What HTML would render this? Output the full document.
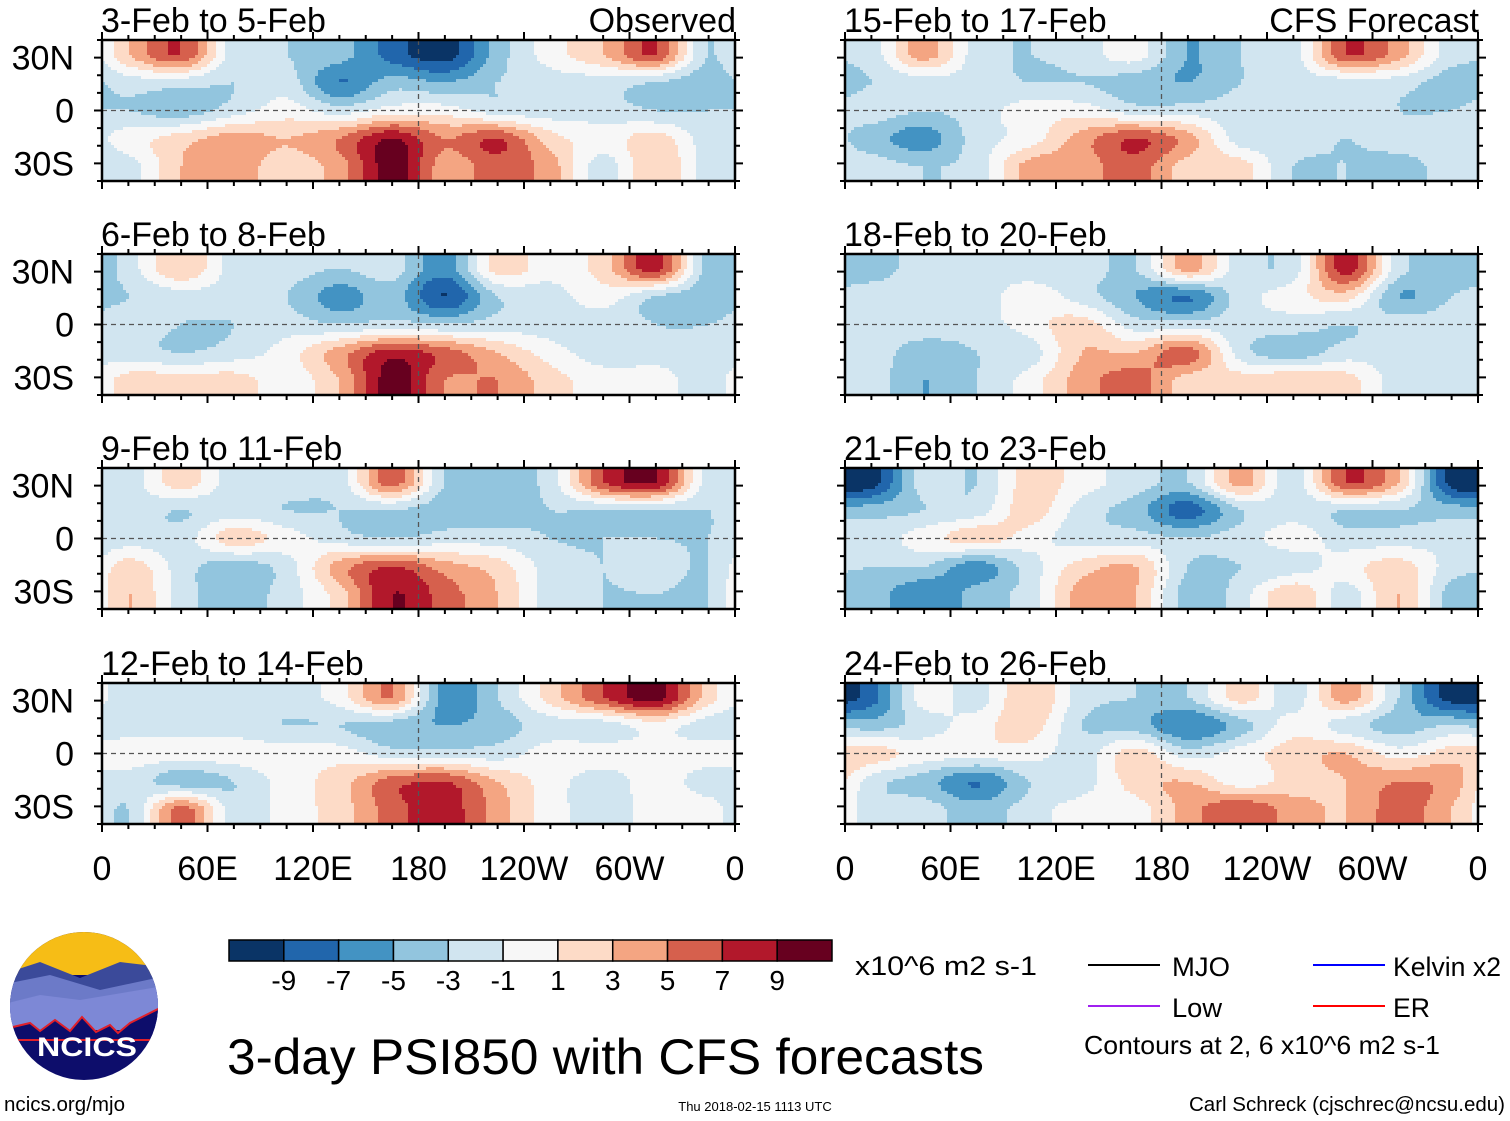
<!DOCTYPE html>
<html><head><meta charset="utf-8"><style>
html,body{margin:0;padding:0;background:#fff}
svg{display:block;font-family:"Liberation Sans",Arial,sans-serif}
</style></head><body>
<svg id="root" width="1510" height="1121" viewBox="0 0 1510 1121">
<defs>
<clipPath id="pclip"><rect x="0" y="0" width="633" height="141"/></clipPath>
</defs>
<g id="panels"></g>
<g id="xaxes"></g>
<g id="cbar"></g>
<text x="855" y="975" font-size="27" textLength="182" lengthAdjust="spacingAndGlyphs">x10^6 m2 s-1</text>
<g>
<g><line x1="1088" y1="965" x2="1160" y2="965" stroke="#000" stroke-width="2"/><text x="1172" y="976" font-size="27" textLength="58" lengthAdjust="spacingAndGlyphs">MJO</text></g>
<g><line x1="1313" y1="965" x2="1385" y2="965" stroke="#0000ff" stroke-width="2"/><text x="1393" y="976" font-size="27" textLength="108" lengthAdjust="spacingAndGlyphs">Kelvin x2</text></g>
<g><line x1="1088" y1="1006" x2="1160" y2="1006" stroke="#a020f0" stroke-width="2"/><text x="1172" y="1017" font-size="27" textLength="50" lengthAdjust="spacingAndGlyphs">Low</text></g>
<g><line x1="1313" y1="1006" x2="1385" y2="1006" stroke="#ff0000" stroke-width="2"/><text x="1393" y="1017" font-size="27" textLength="37" lengthAdjust="spacingAndGlyphs">ER</text></g>
<text x="1084" y="1054" font-size="26" textLength="356" lengthAdjust="spacingAndGlyphs">Contours at 2, 6 x10^6 m2 s-1</text>
</g>
<text x="227" y="1074" font-size="50" textLength="757" lengthAdjust="spacingAndGlyphs">3-day PSI850 with CFS forecasts</text>
<text x="4" y="1111" font-size="20" textLength="121" lengthAdjust="spacingAndGlyphs">ncics.org/mjo</text>
<text x="755" y="1111" font-size="13" text-anchor="middle">Thu 2018-02-15 1113 UTC</text>
<text x="1505" y="1111" font-size="20" text-anchor="end" textLength="316" lengthAdjust="spacingAndGlyphs">Carl Schreck (cjschrec@ncsu.edu)</text>
<g>
<clipPath id="lclip"><circle cx="84" cy="1006" r="74"/></clipPath>
<g clip-path="url(#lclip)">
<rect x="0" y="930" width="170" height="160" fill="#0d0d6b"/>
<rect x="0" y="930" width="170" height="45" fill="#f6bd16"/>
<path d="M0 975 L40 962 L80 978 L120 962 L170 968 L170 1000 L0 1000Z" fill="#3b4a9a"/>
<path d="M0 985 L50 975 L100 990 L170 975 L170 1020 L0 1020Z" fill="#6c7ac8"/>
<path d="M0 1005 L40 995 L80 1000 L170 985 L170 1030 L0 1030Z" fill="#7d88d6"/>
<path d="M0 1030 L30 1023 L40 1031 L55 1020 L70 1031 L82 1017 L96 1032 L110 1025 L118 1033 L130 1023 L170 1003 L170 1040 L0 1040Z" fill="#0d0d6b" stroke="#e0202a" stroke-width="2"/>
</g>
<text x="87" y="1056" font-size="27" font-weight="bold" fill="#fff" text-anchor="middle" textLength="100" lengthAdjust="spacingAndGlyphs">NCICS</text>
</g>
</svg>
<script>
const NS="http://www.w3.org/2000/svg";
const panelTitles=["3-Feb to 5-Feb","6-Feb to 8-Feb","9-Feb to 11-Feb","12-Feb to 14-Feb","15-Feb to 17-Feb","18-Feb to 20-Feb","21-Feb to 23-Feb","24-Feb to 26-Feb"];
const lonTicks=["0","60E","120E","180","120W","60W","0"];
const latTicks=["30N","0","30S"];
const latTickValues=[30,0,-30];
const cbarLabels=["-9","-7","-5","-3","-1","1","3","5","7","9"];
const cbarColors=["#0a3466","#2166ac","#4393c3","#92c5de","#d1e5f0","#f7f7f7","#fddbc7","#f4a582","#d6604d","#b2182b","#67001f"];
// grid: 12 lon columns (30deg each, centred 15E..345E), 5 lat rows (32N,16N,0,16S,32S)
const gridLats=[32,16,0,-16,-32];
const p1=[[3,7,-2,-3,-4,-8,-10,-4,0,3,7,-3],[-2,-2,-3,-2,-7,-4,-5,-3,-2,-2,-3,-4],[-3,-4,-2,0,-2,0,0,-2,-2,-2,-3,-3],[0,2,4,3,5,9,5,7,2,0,2,-2],[-2,3,4,2,4,10,4,6,4,-2,3,-2]];
const p2=[[-2,3,-2,-2,-3,-2,-6,2,0,2,8,-4],[-3,-2,-2,-3,-6,-4,-9,-3,-2,0,-3,-4],[-2,-3,-3,-2,-3,-2,-3,-2,-2,-2,-3,-3],[-2,-3,-2,0,4,8,6,3,0,-2,-2,-2],[2,2,2,0,3,10,5,5,2,0,0,-2]];
const p3=[[-2,2,-2,-2,-2,6,-3,-4,-2,7,9,-2],[-2,-3,-2,-3,-3,-3,-4,-4,-3,-3,-3,-3],[-2,-2,2,0,-2,-3,-2,-2,-3,-3,-3,-3],[2,-2,-4,-2,4,7,4,2,-2,-3,-2,-3],[3,-2,-4,-2,2,9,6,3,-2,-3,-3,-3]];
const p4=[[-2,-2,-2,-2,0,5,-6,-3,2,7,10,2],[-2,-2,-2,-3,-3,-4,-5,-4,-2,-2,0,-2],[0,0,0,0,0,-2,-2,-2,0,0,0,0],[-2,-4,-3,0,2,6,7,3,0,-2,0,-2],[-3,6,-2,0,2,6,8,4,0,-2,0,0]];
const p5=[[-2,4,-2,-3,-2,0,-5,-3,-2,7,4,-2],[-3,-2,-2,-3,-3,-4,-5,-3,-2,-2,-2,-4],[-2,-3,-2,0,0,-2,-2,-2,-2,-2,-3,-3],[-4,-6,-2,0,4,7,4,-2,-2,-3,-2,-2],[-2,-3,-2,4,4,6,2,2,-3,-3,-4,-2]];
const p6=[[-4,-2,-2,-2,-2,-3,4,-2,-2,8,-2,-4],[-2,-2,-2,0,-2,-5,-7,-2,0,2,-5,-3],[-2,-2,-2,0,2,-2,-2,-2,-2,-3,-2,-2],[-2,-4,-3,-2,3,3,6,-2,-4,-2,-2,-2],[-2,-5,-3,0,4,6,2,2,3,2,-2,-2]];
const p7=[[-10,-2,-3,2,0,-2,-3,4,-2,7,3,-10],[-4,-3,-2,2,-2,-4,-8,-3,-2,-3,-3,-4],[-2,0,2,0,-2,-2,-3,-2,0,-2,-2,-2],[-3,-3,-6,-2,2,3,-3,-3,-2,0,2,-2],[-4,-7,-4,-2,4,3,-4,-2,3,-2,3,-4]];
const p8=[[-8,0,-2,3,-2,-3,-3,2,-2,4,-3,-10],[-4,-2,0,2,-3,-4,-7,-4,0,-2,-4,-3],[2,0,0,0,-2,2,-2,0,2,3,0,2],[-2,-4,-7,-3,-2,2,3,0,2,3,5,4],[-2,-2,-4,-2,0,0,4,7,4,3,6,3]];
const panelData=[p1,p2,p3,p4,p5,p6,p7,p8];

const W=633,H=141;
const colX=[102,845], rowY=[40,254,468,683];
const xScale=lon=>lon/360*W;
const yScale=lat=>(40-lat)/80*H;
function colorFor(v){const edges=[-9,-7,-5,-3,-1,1,3,5,7,9];let i=0;while(i<edges.length&&v>=edges[i])i++;return cbarColors[i];}
function cr(p0,p1,p2,p3,t){return 0.5*((2*p1)+(-p0+p2)*t+(2*p0-5*p1+4*p2-p3)*t*t+(-p0+3*p1-3*p2+p3)*t*t*t);}
function rowAt(d,j,lon){
  const fx=lon/30-0.5;const i=Math.floor(fx);const t=fx-i;
  const g=k=>d[j][((k%12)+12)%12];
  return cr(g(i-1),g(i),g(i+1),g(i+2),t);
}
function sample(d,lon,lat){
  let fy=(32-lat)/16; if(fy<0)fy=0; if(fy>4)fy=4;
  let j=Math.min(3,Math.floor(fy));const t=fy-j;
  const r=k=>rowAt(d,Math.max(0,Math.min(4,k)),lon);
  return cr(r(j-1),r(j),r(j+1),r(j+2),t);
}
const panelsG=document.getElementById('panels');
function mk(tag,attrs,parent){const e=document.createElementNS(NS,tag);for(const k in attrs)e.setAttribute(k,attrs[k]);parent.appendChild(e);return e;}
panelData.forEach((d,p)=>{
  const col=p<4?0:1,row=p%4;const X=colX[col],Y=rowY[row];
  const g=mk('g',{transform:`translate(${X},${Y})`},panelsG);
  
  
  const fill=mk('g',{'clip-path':'url(#pclip)','shape-rendering':'crispEdges'},g);
  
  
  const step=3;
  for(let y=0;y<H;y+=step){
    const lat=40-(y+step/2)/H*80;
    let runStart=0,runColor=null;
    for(let x=0;x<=W+step;x+=step){
      let c=null;
      if(x<W){const lon=(x+step/2)/W*360;c=colorFor(sample(d,lon,lat));}
      if(c!==runColor){
        if(runColor!==null){const r=mk('rect',{x:runStart,y:y,width:Math.min(x,W)-runStart,height:step,fill:runColor},fill);
          
          }
        runStart=x;runColor=c;
      }
    }
  }
  mk('line',{x1:0,y1:yScale(0),x2:W,y2:yScale(0),stroke:'#555','stroke-width':1.3,'stroke-dasharray':'5,4'},g);
  mk('line',{x1:xScale(180),y1:0,x2:xScale(180),y2:H,stroke:'#555','stroke-width':1.3,'stroke-dasharray':'5,4'},g);
  mk('rect',{x:0,y:0,width:W,height:H,fill:'none',stroke:'#000','stroke-width':2.5},g);
  for(let lon=0;lon<=360;lon+=15){const x=xScale(lon);const L=lon%60===0?8:5;
    mk('line',{x1:x,y1:H,x2:x,y2:H+L,stroke:'#000','stroke-width':2},g);
    mk('line',{x1:x,y1:0,x2:x,y2:-L,stroke:'#000','stroke-width':2},g);}
  for(let lat=-40;lat<=40;lat+=10){const y=yScale(lat);const L=lat%30===0?8:5;
    mk('line',{x1:0,y1:y,x2:-L,y2:y,stroke:'#000','stroke-width':2},g);
    mk('line',{x1:W,y1:y,x2:W+L,y2:y,stroke:'#000','stroke-width':2},g);}
  const t=mk('text',{x:-1,y:-8,'font-size':34},g);t.textContent=panelTitles[p];
  
  
  if(p===0||p===4){const s=mk('text',{x:W+1,y:-8,'font-size':34,'text-anchor':'end'},g);s.textContent=p===0?'Observed':'CFS Forecast';
    
    }
  if(col===0){latTicks.forEach((lb,i)=>{const tt=mk('text',{x:-28,y:yScale(latTickValues[i])+12,'font-size':34,'text-anchor':'end'},g);tt.textContent=lb;
    
    });}
});
const xa=document.getElementById('xaxes');
colX.forEach(X=>{lonTicks.forEach((lb,i)=>{const t=mk('text',{x:X+xScale(i*60),y:880,'font-size':34,'text-anchor':'middle'},xa);t.textContent=lb;
  
  });});
const cb=document.getElementById('cbar');
const cbX=229,cbW=603/11;
cbarColors.forEach((c,i)=>{const r=mk('rect',{x:cbX+i*cbW,y:940,width:cbW,height:21,fill:c,stroke:'#000','stroke-width':1.5},cb);
  
  });
cbarLabels.forEach((lb,i)=>{const t=mk('text',{x:cbX+(i+1)*cbW,y:990,'font-size':28,'text-anchor':'middle'},cb);t.textContent=lb;
  
  });
</script>
</body></html>
